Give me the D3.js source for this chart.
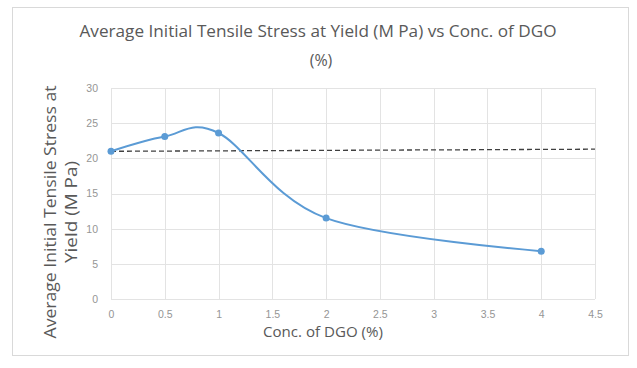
<!DOCTYPE html>
<html>
<head>
<meta charset="utf-8">
<script src="https://cdn.jsdelivr.net/npm/d3@7"></script>
<style>
  body { margin: 0; background: #fff; }
  svg { font-family: "Open Sans", sans-serif; }
</style>
</head>
<body>
<div id="chart"></div>
<script>
// Data
const conc = [0, 0.5, 1, 2, 4];
const stress = [21.0, 23.1, 23.6, 11.5, 6.8];
const trendX = [0, 4.5];
const trendY = [21.0, 21.3];
const xTicks = [0, 0.5, 1, 1.5, 2, 2.5, 3, 3.5, 4, 4.5];
const yTicks = [0, 5, 10, 15, 20, 25, 30];

const width = 637, height = 368;
const margin = { top: 88, right: 42, bottom: 69, left: 111 };

const svg = d3.select("#chart").append("svg")
    .attr("width", width)
    .attr("height", height);

// chart frame
svg.append("rect")
    .attr("x", 12.5).attr("y", 7.5)
    .attr("width", 616).attr("height", 348)
    .attr("fill", "#fff")
    .attr("stroke", "#d9d9d9");

const x = d3.scaleLinear().domain([0, 4.5]).range([margin.left, width - margin.right]);
const y = d3.scaleLinear().domain([0, 30]).range([height - margin.bottom, margin.top]);

// gridlines
svg.append("g")
    .selectAll("line")
    .data(yTicks)
    .join("line")
    .attr("x1", x(0)).attr("x2", x(4.5))
    .attr("y1", d => Math.round(y(d)) + 0.5).attr("y2", d => Math.round(y(d)) + 0.5)
    .attr("stroke", "#e3e3e3");

svg.append("g")
    .selectAll("line")
    .data(xTicks)
    .join("line")
    .attr("y1", y(0)).attr("y2", y(30))
    .attr("x1", d => Math.round(x(d)) + 0.5).attr("x2", d => Math.round(x(d)) + 0.5)
    .attr("stroke", "#e3e3e3");

// axes (labels only)
const yAxis = svg.append("g")
    .attr("transform", `translate(${margin.left - 10},0)`)
    .call(d3.axisLeft(y).tickValues(yTicks).tickSize(0));
yAxis.select(".domain").remove();

const xAxis = svg.append("g")
    .attr("transform", `translate(0,${height - margin.bottom + 9})`)
    .call(d3.axisBottom(x).tickValues(xTicks).tickSize(0).tickFormat(d3.format("")));
xAxis.select(".domain").remove();

svg.selectAll(".tick text")
    .attr("fill", "#959595")
    .style("font-size", "10.5px");

// trendline (dashed)
svg.append("path")
    .datum(trendX.map((d, i) => [d, trendY[i]]))
    .attr("fill", "none")
    .attr("stroke", "#404040")
    .attr("stroke-width", 1.3)
    .attr("stroke-dasharray", "5,3")
    .attr("d", d3.line().x(d => x(d[0])).y(d => y(d[1])));

// smoothed series
const pts = conc.map((d, i) => [d, stress[i]]);
svg.append("path")
    .datum(pts)
    .attr("fill", "none")
    .attr("stroke", "#5b9bd5")
    .attr("stroke-width", 2)
    .attr("d", d3.line().curve(d3.curveCardinal.tension(0)).x(d => x(d[0])).y(d => y(d[1])));

svg.append("g")
    .selectAll("circle")
    .data(pts)
    .join("circle")
    .attr("cx", d => x(d[0]))
    .attr("cy", d => y(d[1]))
    .attr("r", 3.5)
    .attr("fill", "#5b9bd5");

// title
const title = svg.append("text")
    .attr("text-anchor", "middle")
    .attr("fill", "#595959")
    .style("font-size", "16px");
title.append("tspan").attr("x", 318).attr("y", 37)
    .attr("textLength", 477).attr("lengthAdjust", "spacingAndGlyphs")
    .text("Average Initial Tensile Stress at Yield (M Pa) vs Conc. of DGO");
title.append("tspan").attr("x", 321).attr("y", 66).text("(%)");

// x axis title
svg.append("text")
    .attr("x", 323).attr("y", 337)
    .attr("text-anchor", "middle")
    .attr("textLength", 120).attr("lengthAdjust", "spacingAndGlyphs")
    .attr("fill", "#595959")
    .style("font-size", "15px")
    .text("Conc. of DGO (%)");

// y axis title
const yt = svg.append("text")
    .attr("transform", "translate(56,212) rotate(-90)")
    .attr("text-anchor", "middle")
    .attr("fill", "#595959")
    .style("font-size", "16px");
yt.append("tspan").attr("x", 0).attr("y", 0)
    .attr("textLength", 253).attr("lengthAdjust", "spacingAndGlyphs")
    .text("Average Initial Tensile Stress at");
yt.append("tspan").attr("x", 0).attr("y", 21)
    .attr("textLength", 102).attr("lengthAdjust", "spacingAndGlyphs")
    .text("Yield (M Pa)");
</script>
</body>
</html>
